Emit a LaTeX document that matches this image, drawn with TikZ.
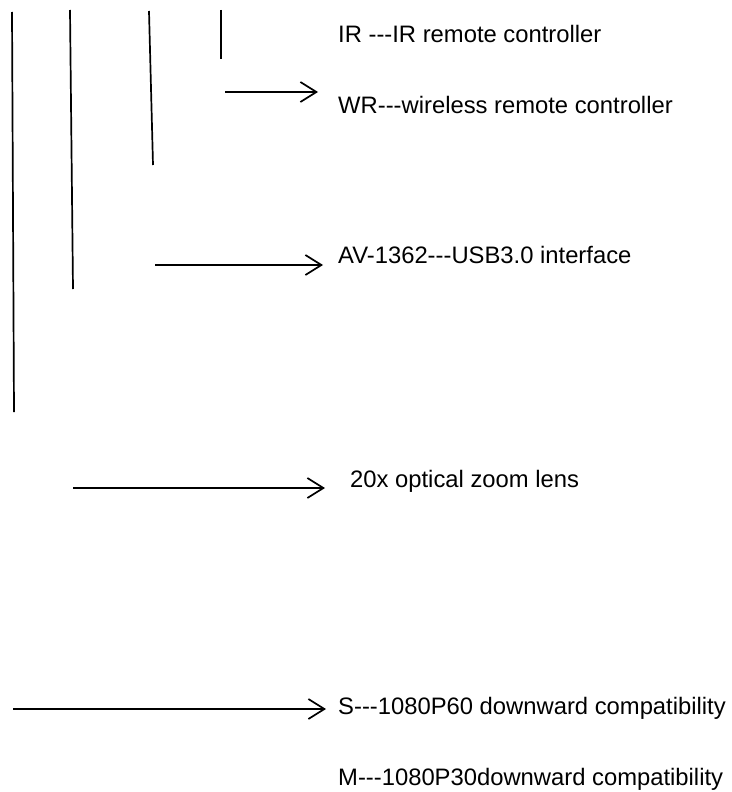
\documentclass[tikz,border=0pt]{standalone}
\usepackage{fontspec}
\setmainfont{Liberation Sans}[Ligatures=TeXOff]
\usetikzlibrary{arrows.meta}
\begin{document}
\begin{tikzpicture}[x=1pt,y=-1pt,
  ln/.style={line width=1.7pt},
  arr/.style={line width=1.7pt,-{Straight Barb[length=16pt,width=20pt,line width=1.7pt]}},
  lbl/.style={anchor=base west,inner sep=0pt,font=\fontsize{23.8}{28}\selectfont}]
\useasboundingbox (0,0) rectangle (731,792);
% vertical lines
\coordinate (a1) at (12,12); \coordinate (a2) at (14,412);
\coordinate (b1) at (70,10); \coordinate (b2) at (73,289);
\coordinate (c1) at (149,11); \coordinate (c2) at (153,165);
\coordinate (d1) at (221,10); \coordinate (d2) at (221,59);
\draw[ln] (a1) -- (a2);
\draw[ln] (b1) -- (b2);
\draw[ln] (c1) -- (c2);
\draw[ln] (d1) -- (d2);
% labels
\node[lbl] (ir) at (338,43) {IR ---IR remote controller};
\node[lbl] (wr) at (338,113) {WR---wireless remote controller};
\node[lbl] (av) at (338,263) {AV-1362---USB3.0 interface};
\node[lbl] (zm) at (350,487) {20x optical zoom lens};
\node[lbl] (s) at (338,714) {S---1080P60 downward compatibility};
\node[lbl] (m) at (338,785) {M---1080P30downward compatibility};
% arrows
\coordinate (e1) at (225,92); \coordinate (e2) at (318,92);
\coordinate (f1) at (155,265); \coordinate (f2) at (323,265);
\coordinate (g1) at (73,488); \coordinate (g2) at (325,488);
\coordinate (h1) at (13,709); \coordinate (h2) at (326,709);
\draw[arr] (e1) -- (e2);
\draw[arr] (f1) -- (f2);
\draw[arr] (g1) -- (g2);
\draw[arr] (h1) -- (h2);
\end{tikzpicture}
\end{document}
